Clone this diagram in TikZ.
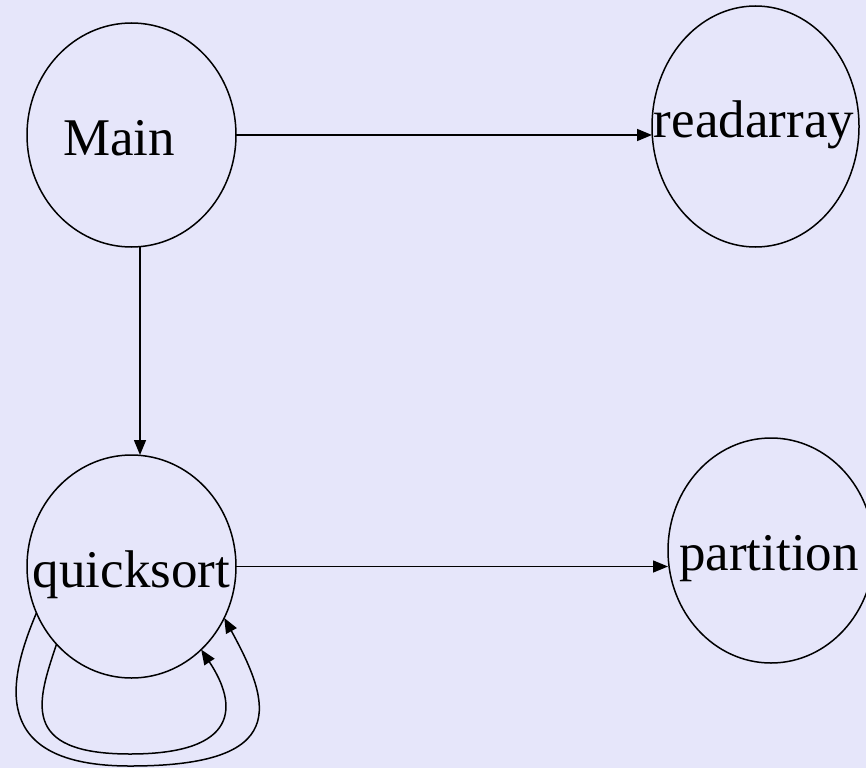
\documentclass[tikz,border=0pt]{standalone}
\usepackage{fontspec}
\setmainfont{Liberation Serif}
\usetikzlibrary{shapes.geometric,arrows.meta}
\definecolor{bgcol}{RGB}{230,230,250}
\tikzset{
  fn/.style={draw=black, line width=1.5pt, shape=ellipse, inner sep=0pt, outer sep=0pt},
  lbl/.style={anchor=base, inner sep=0pt, font=\fontsize{53}{60}\selectfont},
  edge/.style={draw=black, line width=1.5pt, -{Triangle[length=15pt,width=12pt]}}
}
\begin{document}
\begin{tikzpicture}[x=1pt,y=-1pt]
\useasboundingbox (0,0) rectangle (866,768);
\fill[bgcol] (0,0) rectangle (866,768);

\node[fn, minimum width=209pt, minimum height=224pt] (Main) at (131.5,135) {};
\node[fn, minimum width=207pt, minimum height=241pt] (readarray) at (755.5,126.5) {};
\node[fn, minimum width=209pt, minimum height=223pt] (quicksort) at (131.5,566.5) {};
\node[fn, minimum width=206pt, minimum height=225pt] (partition) at (771,550.5) {};

\node[lbl] (tMain) at (119,155) {Main};
\node[lbl] (treadarray) at (754,137) {readarray};
\node[lbl] (tquicksort) at (131.5,587) {quicksort};
\node[lbl] (tpartition) at (769,570) {partition};

\draw[edge] (Main.east) -- (Main.east -| readarray.west);
\draw[edge] ([xshift=8.5pt]Main.south) -- ([xshift=8.5pt]quicksort.north);
\draw[edge] (quicksort.east) -- (quicksort.east -| partition.west);

\draw[edge] (quicksort.206) .. controls (8,680) and (-12,766) .. (130,766)
  .. controls (290,766) and (272,705) .. (quicksort.331);
\draw[edge] (quicksort.226) .. controls (38,700) and (18,754) .. (130,754)
  .. controls (240,754) and (238,705) .. (quicksort.310);
\end{tikzpicture}
\end{document}
